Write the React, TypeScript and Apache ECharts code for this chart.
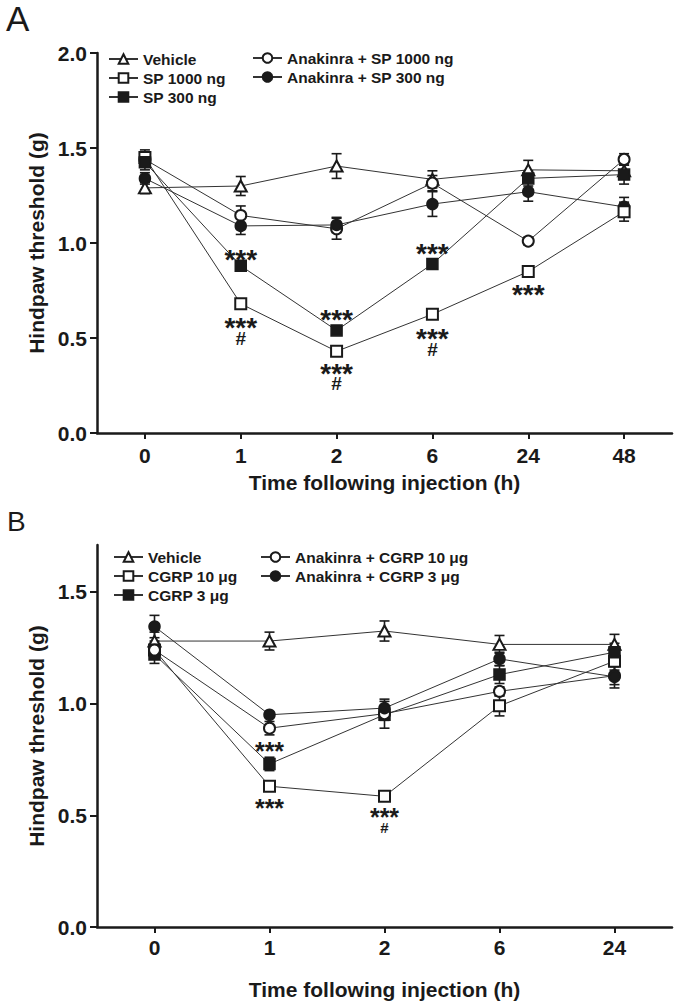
import React, { useEffect, useRef } from 'react';
import * as echarts from 'echarts';

// ---------- Panel A data ----------
const timesA = ['0', '1', '2', '6', '24', '48'];
const vehicleA = [1.29, 1.30, 1.405, 1.335, 1.385, 1.38];
const vehicleASem = [0.03, 0.05, 0.065, 0.045, 0.05, 0.04];
const sp1000 = [1.45, 0.68, 0.43, 0.625, 0.85, 1.165];
const sp1000Sem = [0.04, 0.02, 0.02, 0.02, 0.02, 0.05];
const sp300 = [1.425, 0.88, 0.54, 0.89, 1.34, 1.36];
const sp300Sem = [0.04, 0.02, 0.02, 0.02, 0.04, 0.05];
const anaSp1000 = [1.44, 1.145, 1.075, 1.315, 1.01, 1.44];
const anaSp1000Sem = [0.04, 0.05, 0.055, 0.04, 0.02, 0.03];
const anaSp300 = [1.34, 1.09, 1.095, 1.205, 1.27, 1.19];
const anaSp300Sem = [0.03, 0.045, 0.04, 0.065, 0.05, 0.05];
// [category index, value, text]
const annotA: [number, number, string][] = [
  [1, 0.949, '***'], [1, 0.59, '***'], [1, 0.495, '#'],
  [2, 0.63, '***'], [2, 0.35, '***'], [2, 0.258, '#'],
  [3, 0.98, '***'], [3, 0.532, '***'], [3, 0.438, '#'],
  [4, 0.764, '***'],
];
const yTicksA = [0, 0.5, 1, 1.5, 2];

// ---------- Panel B data ----------
const timesB = ['0', '1', '2', '6', '24'];
const vehicleB = [1.28, 1.28, 1.325, 1.265, 1.265];
const vehicleBSem = [0.04, 0.04, 0.045, 0.04, 0.045];
const cgrp10 = [1.24, 0.63, 0.585, 0.99, 1.19];
const cgrp10Sem = [0.03, 0.01, 0.01, 0.045, 0.04];
const cgrp3 = [1.22, 0.73, 0.95, 1.13, 1.23];
const cgrp3Sem = [0.04, 0.03, 0.06, 0.04, 0.04];
const anaCgrp10 = [1.24, 0.89, 0.955, 1.055, 1.125];
const anaCgrp10Sem = [0.04, 0.03, 0.03, 0.02, 0.04];
const anaCgrp3 = [1.345, 0.95, 0.98, 1.2, 1.12];
const anaCgrp3Sem = [0.05, 0.01, 0.04, 0.03, 0.05];
const annotB: [number, number, string][] = [
  [1, 0.813, '***'], [1, 0.56, '***'],
  [2, 0.518, '***'], [2, 0.445, '#'],
];
const yTicksB = [0, 0.5, 1, 1.5];

const FONT = '"Liberation Sans", Arial, Helvetica, sans-serif';
const INK = '#1a1a1a';

function lineSeries(name: string, data: number[], symbol: string, idx: number, size: any) {
  return {
    type: 'line',
    name,
    data,
    xAxisIndex: idx,
    yAxisIndex: idx,
    symbol,
    symbolSize: size,
    showSymbol: true,
    showAllSymbol: true,
    z: 4,
    lineStyle: { color: '#333', width: 1 },
    itemStyle: { color: INK, borderColor: INK, borderWidth: 1.5 },
    emphasis: { disabled: true },
  };
}

function errSeries(mean: number[], sem: number[], idx: number) {
  return {
    type: 'custom',
    xAxisIndex: idx,
    yAxisIndex: idx,
    z: 3,
    silent: true,
    data: mean.map((m, i) => [i, m - sem[i], m + sem[i]]),
    encode: { x: 0, y: [1, 2] },
    renderItem: (params: any, api: any) => {
      const x = api.value(0);
      const lo = api.coord([x, api.value(1)]);
      const hi = api.coord([x, api.value(2)]);
      const w = 5;
      const st = { stroke: INK, lineWidth: 1.6 };
      return {
        type: 'group',
        children: [
          { type: 'line', shape: { x1: lo[0], y1: lo[1], x2: hi[0], y2: hi[1] }, style: st },
          { type: 'line', shape: { x1: hi[0] - w, y1: hi[1], x2: hi[0] + w, y2: hi[1] }, style: st },
          { type: 'line', shape: { x1: lo[0] - w, y1: lo[1], x2: lo[0] + w, y2: lo[1] }, style: st },
        ],
      };
    },
  };
}

function annotSeries(ann: [number, number, string][], idx: number, starSize: number, hashSize: number) {
  return {
    type: 'custom',
    xAxisIndex: idx,
    yAxisIndex: idx,
    z: 5,
    silent: true,
    data: ann.map((a) => [a[0], a[1], a[2]]),
    encode: { x: 0, y: 1 },
    renderItem: (params: any, api: any) => {
      const item = ann[params.dataIndex];
      const p = api.coord([item[0], item[1]]);
      const isStar = item[2] === '***';
      const fs = isStar ? starSize : hashSize;
      return {
        type: 'text',
        x: p[0],
        y: p[1] + (isStar ? fs * 0.235 : 0),
        style: {
          text: item[2],
          fontSize: fs,
          fontWeight: 'bold',
          fontFamily: FONT,
          fill: INK,
          align: 'center',
          verticalAlign: 'middle',
        },
      };
    },
  };
}

const axisLineStyle = { show: true, lineStyle: { color: INK, width: 2.5 } };
const axisTickStyle = { show: true, length: 6, lineStyle: { color: INK, width: 2 } };
const tickLabel = { color: INK, fontSize: 21, fontWeight: 'bold', fontFamily: FONT };
const nameStyle = { color: INK, fontSize: 21, fontWeight: 'bold', fontFamily: FONT };
const legendText = { color: INK, fontSize: 15.5, fontWeight: 'bold', fontFamily: FONT };

function legend(names: string[], left: number, top: number) {
  return {
    data: names,
    orient: 'vertical',
    left,
    top,
    padding: 0,
    itemWidth: 29,
    itemHeight: 12,
    itemGap: 3,
    textStyle: legendText,
    selectedMode: false,
    inactiveColor: INK,
  };
}

export default function App() {
  const ref = useRef<HTMLDivElement>(null);
  useEffect(() => {
    if (!ref.current) return;
    const chart = echarts.init(ref.current, null, { renderer: 'svg' });
    const option: any = {
      animation: false,
      backgroundColor: '#fff',
      title: [
        { text: 'A', left: 6, top: 1, padding: 0, textStyle: { fontSize: 35, fontWeight: 'normal', fontFamily: FONT, color: INK } },
        { text: 'B', left: 7, top: 507, padding: 0, textStyle: { fontSize: 28, fontWeight: 'normal', fontFamily: FONT, color: INK } },
      ],
      legend: [
        legend(['Vehicle', 'SP 1000 ng', 'SP 300 ng'], 108, 51),
        legend(['Anakinra + SP 1000 ng', 'Anakinra + SP 300 ng'], 252, 50),
        legend(['Vehicle', 'CGRP 10 μg', 'CGRP 3 μg'], 113, 549),
        legend(['Anakinra + CGRP 10 μg', 'Anakinra + CGRP 3 μg'], 260, 549),
      ],
      grid: [
        { left: 97, top: 53, width: 575, height: 380, containLabel: false, outerBoundsMode: 'none' },
        { left: 97, top: 545, width: 575, height: 382, containLabel: false, outerBoundsMode: 'none' },
      ],
      xAxis: [
        {
          type: 'category', gridIndex: 0, data: timesA, boundaryGap: true,
          axisLine: { ...axisLineStyle, onZero: false },
          axisTick: { ...axisTickStyle, alignWithLabel: true },
          axisLabel: { ...tickLabel, margin: 12 },
          splitLine: { show: false },
          name: 'Time following injection (h)', nameLocation: 'middle', nameGap: 39, nameTextStyle: nameStyle,
        },
        {
          type: 'category', gridIndex: 1, data: timesB, boundaryGap: true,
          axisLine: { ...axisLineStyle, onZero: false },
          axisTick: { ...axisTickStyle, alignWithLabel: true },
          axisLabel: { ...tickLabel, margin: 10 },
          splitLine: { show: false },
          name: 'Time following injection (h)', nameLocation: 'middle', nameGap: 52, nameTextStyle: nameStyle,
        },
      ],
      yAxis: [
        {
          type: 'value', gridIndex: 0, min: 0, max: 2, interval: 0.5,
          axisLine: axisLineStyle,
          axisTick: { ...axisTickStyle, length: 7, customValues: yTicksA },
          axisLabel: { ...tickLabel, margin: 10, formatter: (v: number) => v.toFixed(1), customValues: yTicksA },
          splitLine: { show: false },
          name: 'Hindpaw threshold (g)', nameLocation: 'middle', nameGap: 49, nameRotate: 90, nameTextStyle: nameStyle,
        },
        {
          type: 'value', gridIndex: 1, min: 0, max: 1.71, interval: 0.5,
          axisLine: axisLineStyle,
          axisTick: { ...axisTickStyle, length: 7, customValues: yTicksB },
          axisLabel: { ...tickLabel, margin: 10, formatter: (v: number) => v.toFixed(1), customValues: yTicksB },
          splitLine: { show: false },
          name: 'Hindpaw threshold (g)', nameLocation: 'middle', nameGap: 49, nameRotate: 90, nameTextStyle: nameStyle,
        },
      ],
      series: [
        errSeries(vehicleA, vehicleASem, 0),
        errSeries(sp1000, sp1000Sem, 0),
        errSeries(sp300, sp300Sem, 0),
        errSeries(anaSp1000, anaSp1000Sem, 0),
        errSeries(anaSp300, anaSp300Sem, 0),
        lineSeries('Vehicle', vehicleA, 'emptyTriangle', 0, [12, 11]),
        lineSeries('Anakinra + SP 1000 ng', anaSp1000, 'emptyCircle', 0, 11),
        lineSeries('Anakinra + SP 300 ng', anaSp300, 'circle', 0, 11),
        lineSeries('SP 1000 ng', sp1000, 'emptyRect', 0, 11),
        lineSeries('SP 300 ng', sp300, 'rect', 0, 11),
        annotSeries(annotA, 0, 28, 19),

        errSeries(vehicleB, vehicleBSem, 1),
        errSeries(cgrp10, cgrp10Sem, 1),
        errSeries(cgrp3, cgrp3Sem, 1),
        errSeries(anaCgrp10, anaCgrp10Sem, 1),
        errSeries(anaCgrp3, anaCgrp3Sem, 1),
        lineSeries('Vehicle', vehicleB, 'emptyTriangle', 1, [12, 11]),
        lineSeries('CGRP 10 μg', cgrp10, 'emptyRect', 1, 11),
        lineSeries('CGRP 3 μg', cgrp3, 'rect', 1, 11),
        lineSeries('Anakinra + CGRP 10 μg', anaCgrp10, 'emptyCircle', 1, 11),
        lineSeries('Anakinra + CGRP 3 μg', anaCgrp3, 'circle', 1, 11),
        annotSeries(annotB, 1, 25, 15),
      ],
    };
    chart.setOption(option);
    return () => chart.dispose();
  }, []);
  return (
    <div
      ref={ref}
      style={{ position: 'absolute', left: 0, top: 0, width: 676, height: 1008, background: '#fff' }}
    />
  );
}
